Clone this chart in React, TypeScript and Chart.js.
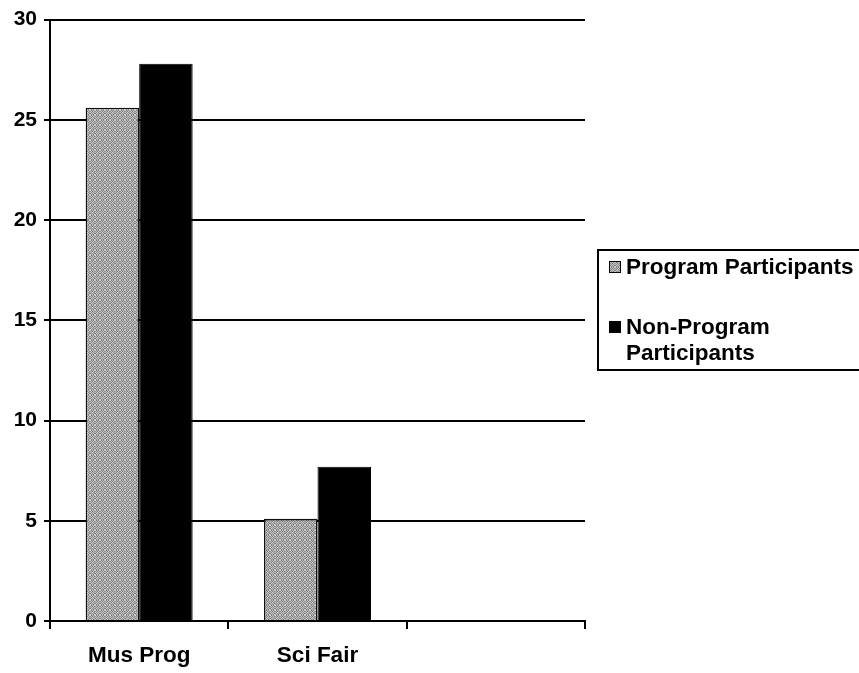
import React, { useEffect, useRef, useState } from 'react';
import { Chart, registerables } from 'chart.js';

Chart.register(...registerables);

const categories = ['Mus Prog', 'Sci Fair', ''];
const programParticipants: (number | null)[] = [25.6, 5.1, null];
const nonProgramParticipants: (number | null)[] = [27.8, 7.7, null];
const seriesLabels = ['Program Participants', 'Non-Program Participants'];
const yMin = 0;
const yMax = 30;
const yStep = 5;

const FONT = '"Liberation Sans", Arial, Helvetica, sans-serif';

function makeStipple(): HTMLCanvasElement {
  const c = document.createElement('canvas');
  c.width = 5;
  c.height = 5;
  const g = c.getContext('2d')!;
  const tones = [
    '#cfcfcf', '#7a7a7a', '#b8b8b8', '#8c8c8c', '#c6c6c6',
    '#959595', '#c2c2c2', '#747474', '#cacaca', '#888888',
    '#bdbdbd', '#858585', '#d0d0d0', '#909090', '#b0b0b0',
    '#7e7e7e', '#c8c8c8', '#999999', '#bcbcbc', '#828282',
    '#c4c4c4', '#8a8a8a', '#b4b4b4', '#7c7c7c', '#cccccc',
  ];
  for (let i = 0; i < 25; i++) {
    g.fillStyle = tones[i];
    g.fillRect(i % 5, Math.floor(i / 5), 1, 1);
  }
  return c;
}

export default function App() {
  const ref = useRef<HTMLCanvasElement | null>(null);
  const [swatch, setSwatch] = useState<string>('');

  useEffect(() => {
    const canvas = ref.current;
    if (!canvas) return;
    const ctx = canvas.getContext('2d')!;
    const tile = makeStipple();
    const pattern = ctx.createPattern(tile, 'repeat') || '#a5a5a5';
    setSwatch(tile.toDataURL());

    const chart = new Chart(canvas, {
      type: 'bar',
      data: {
        labels: categories,
        datasets: [
          {
            label: seriesLabels[0],
            data: programParticipants,
            backgroundColor: pattern as any,
            borderColor: '#111',
            borderWidth: 1.5,
            barPercentage: 1,
            categoryPercentage: 0.6,
          },
          {
            label: seriesLabels[1],
            data: nonProgramParticipants,
            backgroundColor: '#000',
            borderColor: '#000',
            borderWidth: 1,
            barPercentage: 1,
            categoryPercentage: 0.6,
          },
        ],
      },
      options: {
        animation: false,
        responsive: false,
        maintainAspectRatio: false,
        layout: { padding: { left: 0, right: 274, top: 16, bottom: 0 } },
        plugins: {
          legend: { display: false },
          tooltip: { enabled: false },
        },
        scales: {
          x: {
            grid: {
              display: true,
              drawOnChartArea: false,
              drawTicks: true,
              tickLength: 8,
              color: '#000',
              lineWidth: 2,
              offset: true,
            },
            border: { display: true, color: '#000', width: 2 },
            ticks: {
              color: '#000',
              font: { family: FONT, size: 22.5, weight: 'bold' },
              padding: 13,
              maxRotation: 0,
            },
            afterFit: (scale: any) => {
              scale.height = 52;
            },
          },
          y: {
            min: yMin,
            max: yMax,
            grid: {
              color: '#000',
              lineWidth: 2,
              tickLength: 6,
              drawTicks: true,
            },
            border: { display: true, color: '#000', width: 2 },
            ticks: {
              stepSize: yStep,
              color: '#000',
              font: { family: FONT, size: 21, weight: 'bold' },
              padding: 7,
            },
            afterFit: (scale: any) => {
              scale.width = 50;
            },
          },
        },
      },
    });
    return () => chart.destroy();
  }, []);

  return (
    <div
      style={{
        position: 'fixed',
        left: 0,
        top: 0,
        width: 859,
        height: 673,
        overflow: 'hidden',
        background: '#fff',
      }}
    >
      <canvas ref={ref} width={859} height={673} style={{ display: 'block' }} />
      <div
        style={{
          position: 'absolute',
          left: 597,
          top: 249,
          width: 300,
          height: 122,
          boxSizing: 'border-box',
          border: '2px solid #000',
          fontFamily: FONT,
          fontWeight: 'bold',
          fontSize: 22.5,
          lineHeight: '26px',
          color: '#000',
        }}
      >
        {seriesLabels.map((lab, i) => (
          <div
            key={lab}
            style={{ position: 'absolute', left: 10, top: i === 0 ? 3 : 63, display: 'flex' }}
          >
            <div
              style={{
                width: 12,
                height: 12,
                marginTop: 7,
                marginRight: 5,
                boxSizing: 'border-box',
                border: '1.5px solid #000',
                background: i === 0 ? (swatch ? `url(${swatch})` : '#a5a5a5') : '#000',
                flex: 'none',
              }}
            />
            <div style={{ width: 234 }}>{lab}</div>
          </div>
        ))}
      </div>
    </div>
  );
}
